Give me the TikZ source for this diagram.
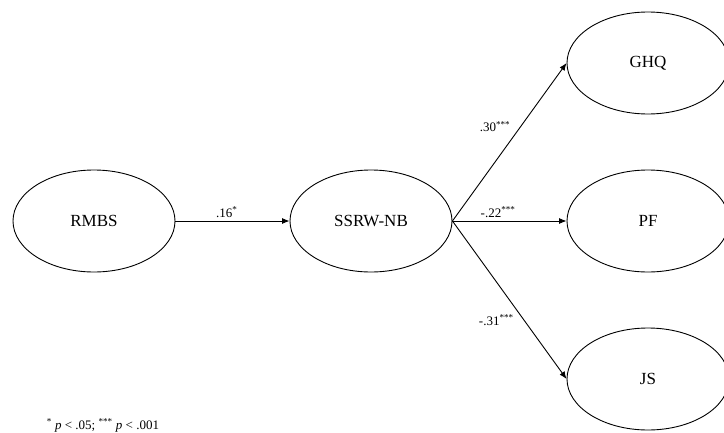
\documentclass[tikz,border=0pt]{standalone}
\usepackage{fontspec}
\setmainfont{Liberation Serif}
\usetikzlibrary{shapes.geometric, arrows.meta, positioning}
\tikzset{
    latent/.style={
        ellipse,
        line width=0.9pt,
        draw=black,
        minimum width=162pt,
        minimum height=102pt,
        inner sep=0pt,
        font=\fontsize{17}{20}\selectfont,
    },
    coef/.style={
        font=\fontsize{13}{15}\selectfont,
    },
}

\begin{document}
\begin{tikzpicture}[->, >={Latex[length=7.5pt,width=6pt]}, line width=0.9pt, node distance=158pt and 277pt, on grid, auto]
      \useasboundingbox (-94pt,-211pt) rectangle (630pt,221pt);

      \node[latent] (rmbs) {RMBS};

      \node[latent, right=of rmbs] (ssrw) {SSRW-NB};

      \node[latent, right=of ssrw] (pf) {PF};

      \node[latent, above=of pf] (ghq) {GHQ};

      \node[latent, below=of pf] (js) {JS};

      \node[coef, anchor=base west] (note) at (-51pt,-208pt) {\textsuperscript{*} \textit{p} < .05; \textsuperscript{***} \textit{p} < .001};

      \path (rmbs.east) edge[above] node[coef, pos=0.45]{.16\textsuperscript{*}} (ssrw.west);
      \path (ssrw.east) edge node[coef, pos=0.54]{.30\textsuperscript{***}} (ghq.west);
      \path (ssrw.east) edge[above] node[coef, pos=0.4]{-.22\textsuperscript{***}} (pf.west);
      \path (ssrw.east) edge[swap] node[coef, pos=0.57]{-.31\textsuperscript{***}} (js.west);
    \end{tikzpicture}
\end{document}
